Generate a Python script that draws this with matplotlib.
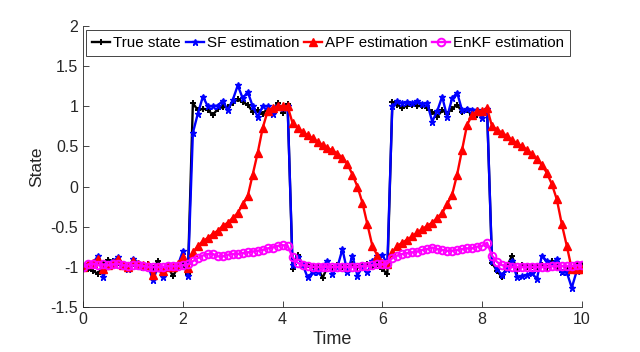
import numpy as np
import matplotlib
matplotlib.use("Agg")
import matplotlib.pyplot as plt

plt.rcParams['font.family'] = ['Liberation Sans', 'DejaVu Sans']
plt.rcParams['axes.unicode_minus'] = False

time = np.round(np.arange(0, 10.01, 0.1), 1)

true_state = [
    -1.00, -1.03, -1.05, -1.09, -0.97, -0.91, -0.93, -0.95, -1.00, -1.02,
    -0.97, -0.96, -1.00, -0.97, -1.02, -0.93, -1.04, -0.99, -1.12, -1.00,
    -0.97, -1.09,
    1.04, 0.95, 0.97, 0.96, 0.89, 0.97, 0.99, 0.99, 1.04, 1.09,
    1.05, 1.02, 0.93, 0.95, 0.91, 0.97, 0.95, 1.04, 0.92, 1.03,
    -1.03, -0.85, -0.97, -0.98, -0.99, -1.00, -1.14, -1.00, -1.02, -0.98,
    -1.00, -1.02, -0.97, -1.01, -0.99, -0.96, -1.00, -0.97, -1.03, -1.09,
    1.05, 1.02, 0.98, 1.01, 1.02, 1.00, 1.01, 0.98, 0.93, 0.87,
    0.95, 0.91, 0.97, 1.02, 0.93, 0.95, 0.89, 0.89, 0.91, 0.97,
    -0.95, -1.05, -1.13, -1.00, -0.86, -1.05, -0.98, -1.00, -0.99, -1.00,
    -0.98, -1.02, -0.93, -1.00, -1.06, -1.02, -1.02, -0.96, -0.98,
]

sf_est = [
    -1.00, -0.97, -0.95, -0.86, -1.13, -0.97, -0.93, -0.88, -0.98, -1.03,
    -0.90, -0.95, -1.00, -0.98, -1.17, -0.99, -1.13, -0.98, -1.02, -0.98,
    -0.80, -1.11,
    0.67, 0.91, 1.12, 1.00, 1.00, 1.01, 1.07, 0.95, 1.08, 1.26,
    1.10, 1.18, 1.00, 0.87, 1.00, 1.00, 0.91, 1.01, 0.98, 1.00,
    -0.98, -0.88, -0.97, -1.13, -1.07, -1.07, -0.99, -0.93, -1.09, -1.00,
    -0.78, -1.07, -0.86, -1.11, -1.00, -1.07, -0.93, -0.87, -0.85, -0.97,
    1.00, 1.06, 1.04, 1.05, 1.04, 1.06, 1.03, 1.04, 0.81, 0.94,
    1.12, 0.87, 1.10, 1.17, 0.95, 0.97, 0.96, 0.95, 0.85, 0.97,
    -0.93, -1.03, -1.10, -1.03, -0.93, -1.13, -1.12, -1.10, -1.08, -1.15,
    -0.86, -0.93, -0.97, -0.90, -1.07, -1.07, -1.26, -1.05, -1.03,
]

apf_est = [
    -1.00, -0.97, -0.95, -0.90, -1.03, -0.98, -0.95, -0.90, -0.98, -1.00,
    -0.93, -0.96, -0.98, -0.98, -1.10, -1.00, -1.05, -1.00, -1.00, -0.97,
    -0.88, -1.02,
    -0.82, -0.74, -0.68, -0.64, -0.59, -0.55, -0.49, -0.45, -0.39, -0.33,
    -0.22, -0.12, 0.15, 0.42, 0.73, 0.94, 0.98, 1.00, 1.00, 1.00,
    0.79, 0.73, 0.68, 0.64, 0.60, 0.56, 0.52, 0.48, 0.45, 0.41,
    0.36, 0.28, 0.15, 0.00, -0.20, -0.47, -0.74, -0.86, -0.95, -0.97,
    -0.82, -0.74, -0.70, -0.66, -0.62, -0.57, -0.53, -0.49, -0.45, -0.39,
    -0.33, -0.22, -0.10, 0.15, 0.46, 0.77, 0.89, 0.94, 0.94, 0.98,
    0.75, 0.71, 0.67, 0.63, 0.58, 0.54, 0.50, 0.46, 0.40, 0.34,
    0.27, 0.17, 0.03, -0.16, -0.47, -0.74, -1.03, -1.03, -1.03,
]

enkf_est = [
    -1.00, -0.97, -0.96, -0.98, -0.97, -0.98, -0.97, -0.96, -0.98, -0.99,
    -0.98, -0.98, -0.99, -1.00, -1.00, -1.00, -1.00, -0.99, -0.99, -0.99,
    -0.98, -0.97,
    -0.93, -0.89, -0.86, -0.84, -0.84, -0.87, -0.87, -0.85, -0.84, -0.84,
    -0.83, -0.82, -0.81, -0.80, -0.79, -0.77, -0.76, -0.74, -0.73, -0.74,
    -0.88, -0.95, -0.98, -0.99, -1.00, -1.00, -1.00, -1.00, -1.00, -1.00,
    -1.00, -1.00, -1.00, -1.00, -0.99, -0.99, -0.98, -0.97, -0.97, -0.96,
    -0.89, -0.86, -0.84, -0.83, -0.82, -0.81, -0.79, -0.78, -0.76, -0.78,
    -0.79, -0.80, -0.80, -0.79, -0.78, -0.77, -0.77, -0.75, -0.74, -0.70,
    -0.86, -0.94, -0.98, -0.99, -1.00, -1.00, -1.00, -1.00, -1.00, -1.00,
    -1.00, -1.00, -0.99, -0.99, -0.99, -0.99, -0.99, -0.98, -0.98,
]

x_ticks = [0, 2, 4, 6, 8, 10]
y_ticks = [-1.5, -1, -0.5, 0, 0.5, 1, 1.5, 2]

fig = plt.figure(figsize=(6.4, 3.52), dpi=100)
ax = fig.add_axes([0.130, 0.128, 0.779, 0.798])

ax.plot(time, true_state, color='black', lw=1.7, marker='+', ms=5, mew=1.4, label='True state')
ax.plot(time, sf_est, color='blue', lw=1.7, marker='*', ms=5, mew=1.0, label='SF estimation')
ax.plot(time, apf_est, color='red', lw=1.7, marker='^', ms=6, mew=1.0, label='APF estimation')
ax.plot(time, enkf_est, color='magenta', lw=1.7, marker='o', ms=5.5, mfc='none', mew=1.4, label='EnKF estimation')

ax.set_xlim(0, 10)
ax.set_ylim(-1.5, 2)
ax.set_xticks(x_ticks)
ax.set_yticks(y_ticks)
ax.set_yticklabels(['-1.5', '-1', '-0.5', '0', '0.5', '1', '1.5', '2'])
ax.set_xticklabels([str(v) for v in x_ticks])
for s in ['top', 'right']:
    ax.spines[s].set_visible(False)
for s in ['left', 'bottom']:
    ax.spines[s].set_color('#262626')
    ax.spines[s].set_linewidth(0.6)
ax.tick_params(direction='in', length=4, width=0.6, colors='#262626', labelsize=11.5, labelcolor='#262626')
ax.set_xlabel('Time', fontsize=13, color='#262626', labelpad=3)
ax.set_ylabel('State', fontsize=12.5, color='#262626', labelpad=5)

leg = ax.legend(loc='upper left', bbox_to_anchor=(0.006, 0.985), ncol=4, fontsize=10.9,
                handlelength=1.2, handletextpad=0.2, columnspacing=0.3, borderpad=0.4,
                fancybox=False, framealpha=1, edgecolor='#262626', borderaxespad=0)
leg.get_frame().set_linewidth(0.6)

fig.savefig('out.png', dpi=100)
